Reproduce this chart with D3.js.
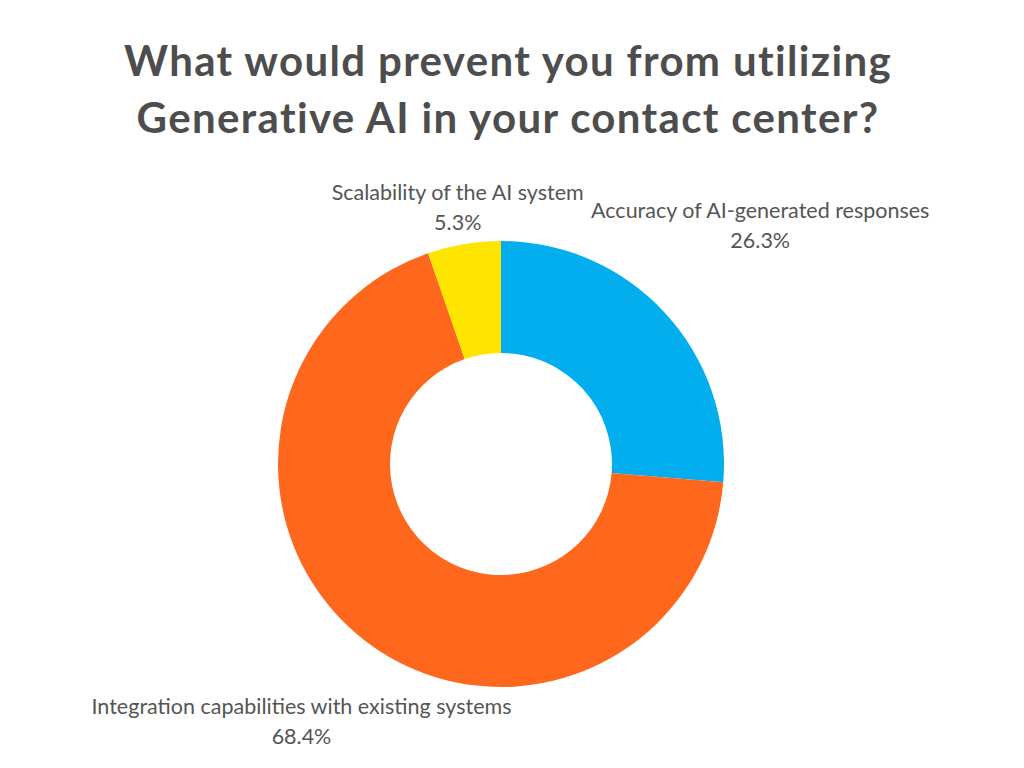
<!DOCTYPE html>
<html>
<head>
<meta charset="utf-8">
<script src="https://cdn.jsdelivr.net/npm/d3@7"></script>
<style>
  body { margin: 0; background: #fff; }
  text { font-family: Lato, "Open Sans", sans-serif; }
</style>
</head>
<body>
<div id="chart"></div>
<script>
var titleLines = ["What would prevent you from utilizing", "Generative AI in your contact center?"];
var categories = ["Accuracy of AI-generated responses", "Integration capabilities with existing systems", "Scalability of the AI system"];
var values = [26.3, 68.4, 5.3];
var colors = ["#02aeee", "#ff671c", "#fde500"];

function init(){

    var w = 1024;
    var h = 768;
    var cx = 501, cy = 464;
    var outerR = 223, innerR = 111;

    var svg = d3.select("#chart")
                .append("svg")
                .attr("width", w)
                .attr("height", h);

    // title
    svg.append("g")
        .selectAll("text")
        .data(titleLines)
        .enter()
        .append("text")
        .attr("x", 508)
        .attr("y", function(d, i){ return 76 + i * 57; })
        .attr("text-anchor", "middle")
        .attr("font-size", 42)
        .attr("font-weight", "bold")
        .attr("letter-spacing", 1.35)
        .attr("fill", "#4d4d4d")
        .text(function(d){ return d; });

    var data = categories.map(function(c, i){
        return { name: c, value: values[i], color: colors[i] };
    });

    var pie = d3.pie()
                .sort(null)
                .value(function(d){ return d.value; });

    var arc = d3.arc()
                .innerRadius(innerR)
                .outerRadius(outerR);

    var g = svg.append("g")
                .attr("transform", "translate(" + cx + "," + cy + ")");

    var arcs = pie(data);

    g.selectAll("path")
        .data(arcs)
        .enter()
        .append("path")
        .attr("d", arc)
        .attr("fill", function(d){ return d.data.color; });

    // labels: pushed out along mid angle until the box clears the ring
    var labels = g.selectAll("g.label")
        .data(arcs)
        .enter()
        .append("g")
        .attr("class", "label");

    labels.append("text")
        .attr("text-anchor", "middle")
        .attr("font-size", 21.5)
        .attr("fill", "#555")
        .attr("y", -7)
        .text(function(d){ return d.data.name; });

    labels.append("text")
        .attr("text-anchor", "middle")
        .attr("font-size", 21.5)
        .attr("fill", "#555")
        .attr("y", 23)
        .text(function(d){ return d.data.value.toFixed(1) + "%"; });

    var pad = 6;
    labels.each(function(d){
        var node = d3.select(this);
        var bb = this.getBBox();
        var a = (d.startAngle + d.endAngle) / 2;
        var ux = Math.sin(a), uy = -Math.cos(a);
        var bcx = bb.x + bb.width / 2, bcy = bb.y + bb.height / 2;
        function minDist(r){
            var x0 = r * ux - bb.width / 2, x1 = r * ux + bb.width / 2;
            var y0 = r * uy - bb.height / 2, y1 = r * uy + bb.height / 2;
            var px = Math.max(x0, Math.min(0, x1));
            var py = Math.max(y0, Math.min(0, y1));
            return Math.sqrt(px * px + py * py);
        }
        var r = 0;
        while (minDist(r) < outerR + pad && r < 800) r += 0.5;
        node.attr("transform", "translate(" + (r * ux - bcx) + "," + (r * uy - bcy) + ")");
    });
}

window.onload = init;
</script>
</body>
</html>
